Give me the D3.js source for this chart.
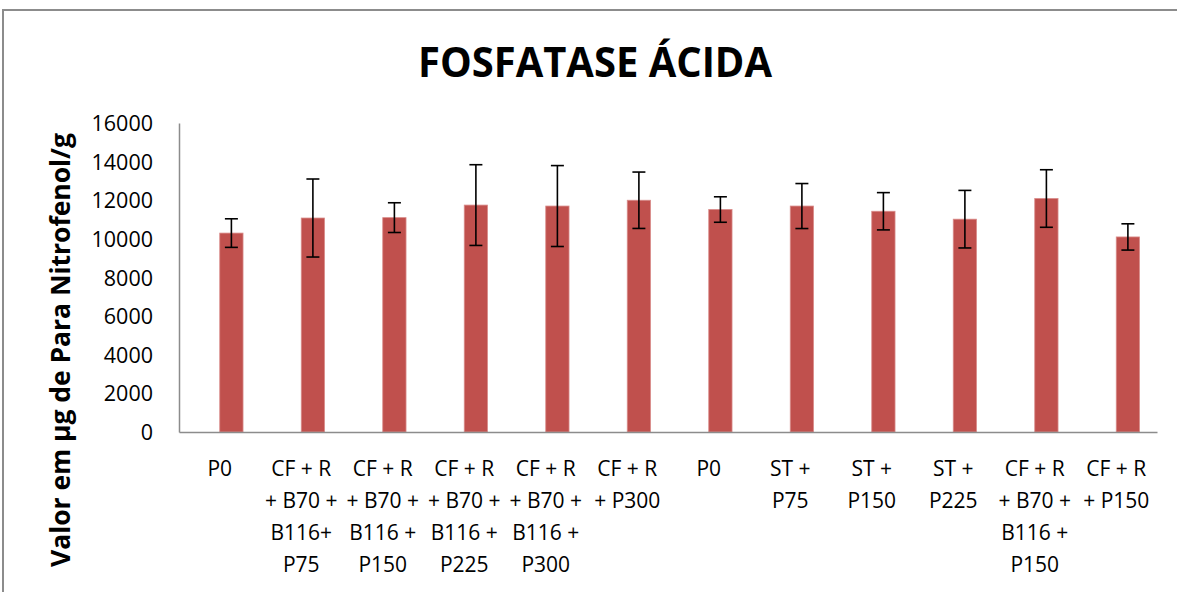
<!DOCTYPE html>
<html>
<head>
<meta charset="utf-8">
<script src="https://cdn.jsdelivr.net/npm/d3@7"></script>
<style>
  html, body { margin: 0; padding: 0; background: #ffffff; }
  svg { display: block; }
</style>
</head>
<body>
<svg id="chart" width="1177" height="592"></svg>
<script>
// ---- data ----
const title = "FOSFATASE ÁCIDA";
const yAxisTitle = "Valor em µg de Para Nitrofenol/g";
const categories = [
  ["P0"],
  ["CF + R", "+ B70 +", "B116+", "P75"],
  ["CF + R", "+ B70 +", "B116 +", "P150"],
  ["CF + R", "+ B70 +", "B116 +", "P225"],
  ["CF + R", "+ B70 +", "B116 +", "P300"],
  ["CF + R", "+ P300"],
  ["P0"],
  ["ST +", "P75"],
  ["ST +", "P150"],
  ["ST +", "P225"],
  ["CF + R", "+ B70 +", "B116 +", "P150"],
  ["CF + R", "+ P150"]
];
const values = [10300, 11080, 11100, 11750, 11700, 12000, 11520, 11700, 11430, 11020, 12090, 10100];
const errors = [740, 2020, 770, 2090, 2095, 1460, 660, 1165, 965, 1490, 1490, 680];
const yTicks = [0, 2000, 4000, 6000, 8000, 10000, 12000, 14000, 16000];
const seriesSlots = ["empty", "Fosfatase"];

// ---- layout ----
const W = 1177, H = 592;
const plot = { left: 179, right: 1157, top: 123, bottom: 432 };
const svg = d3.select("#chart");
const font = "'Open Sans', 'Liberation Sans', sans-serif";

// chart frame (only top & left visible)
svg.append("rect")
  .attr("x", 3).attr("y", 10)
  .attr("width", W + 20).attr("height", H + 20)
  .attr("fill", "#ffffff")
  .attr("stroke", "#8c8c8c").attr("stroke-width", 2);

// scales
const ids = categories.map((d, i) => i);
const x = d3.scaleBand().domain(ids).range([plot.left, plot.right]).padding(0);
const xs = d3.scaleBand().domain(seriesSlots).range([0, x.bandwidth()])
  .paddingInner(0).paddingOuter(0.75);
const y = d3.scaleLinear().domain([0, 16000]).range([plot.bottom, plot.top]);

// title
svg.append("text")
  .attr("x", 595).attr("y", 77)
  .attr("text-anchor", "middle")
  .attr("font-family", font)
  .attr("font-weight", "bold")
  .attr("font-size", 41)
  .attr("textLength", 354)
  .attr("lengthAdjust", "spacingAndGlyphs")
  .attr("fill", "#000")
  .text(title);

// y axis title
svg.append("text")
  .attr("transform", "translate(70,350) rotate(-90)")
  .attr("text-anchor", "middle")
  .attr("font-family", font)
  .attr("font-weight", "bold")
  .attr("font-size", 26)
  .attr("textLength", 434)
  .attr("lengthAdjust", "spacingAndGlyphs")
  .attr("fill", "#000")
  .text(yAxisTitle);

// y axis
const yAxis = d3.axisLeft(y).tickValues(yTicks).tickSize(0).tickPadding(26)
  .tickFormat(d3.format("d"));
const gy = svg.append("g").attr("transform", `translate(${plot.left},0)`).call(yAxis);
gy.select(".domain").attr("stroke", "#8c8c8c").attr("stroke-width", 1.5);
gy.selectAll("text")
  .attr("font-family", font)
  .attr("font-size", 21.5)
  .attr("fill", "#000")
  .attr("dy", "0.35em");

// bars
svg.append("g").selectAll("rect")
  .data(values)
  .join("rect")
  .attr("x", (d, i) => x(i) + xs("Fosfatase"))
  .attr("y", d => y(d))
  .attr("width", xs.bandwidth())
  .attr("height", d => y(0) - y(d))
  .attr("fill", "#C0504D")
  .attr("stroke", "#d98c8a")
  .attr("stroke-width", 0.8);

// x axis
const xAxis = d3.axisBottom(x).tickSize(0).tickFormat("");
const gx = svg.append("g").attr("transform", `translate(0,${plot.bottom})`).call(xAxis);
gx.select(".domain").attr("stroke", "#8c8c8c").attr("stroke-width", 1.5);

// category labels
const labels = svg.append("g")
  .attr("font-family", font)
  .attr("font-size", 21)
  .attr("fill", "#000")
  .attr("text-anchor", "middle");
categories.forEach((lines, i) => {
  const t = labels.append("text")
    .attr("x", x(i) + x.bandwidth() / 2)
    .attr("y", 476);
  lines.forEach((ln, j) => {
    t.append("tspan")
      .attr("x", x(i) + x.bandwidth() / 2)
      .attr("dy", j === 0 ? 0 : 32)
      .text(ln);
  });
});

// error bars
const eb = svg.append("g").attr("stroke", "#000").attr("stroke-width", 1.6);
values.forEach((v, i) => {
  const cx = x(i) + xs("Fosfatase") + xs.bandwidth() / 2;
  const hi = y(v + errors[i]), lo = y(v - errors[i]);
  eb.append("line").attr("x1", cx).attr("x2", cx).attr("y1", hi).attr("y2", lo);
  eb.append("line").attr("x1", cx - 6.5).attr("x2", cx + 6.5).attr("y1", hi).attr("y2", hi);
  eb.append("line").attr("x1", cx - 6.5).attr("x2", cx + 6.5).attr("y1", lo).attr("y2", lo);
});
</script>
</body>
</html>
